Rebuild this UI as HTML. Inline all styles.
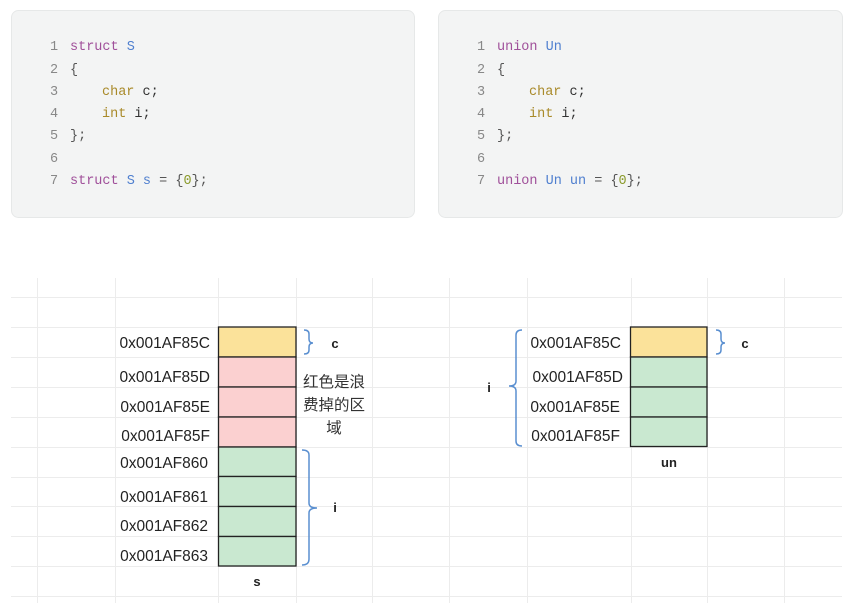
<!DOCTYPE html>
<html><head><meta charset="utf-8"><style>
html,body{margin:0;padding:0;background:#fff;}
svg{display:block;}
.m{font-family:"Liberation Mono",monospace;font-size:13.5px;}
.a{font-family:"Liberation Sans",sans-serif;font-size:15.5px;fill:#222;}
.b{font-family:"Liberation Sans",sans-serif;font-size:13px;font-weight:bold;fill:#222;}
</style></head><body>
<svg width="857" height="603" viewBox="0 0 857 603" xmlns="http://www.w3.org/2000/svg">
<rect x="11.5" y="10.5" width="403" height="207" rx="7" fill="#f3f4f4" stroke="#e6e8e8"/>
<rect x="438.5" y="10.5" width="404" height="207" rx="7" fill="#f3f4f4" stroke="#e6e8e8"/>
<g class="m">
<g fill="#888"><text x="50" y="50">1</text><text x="50" y="73">2</text><text x="50" y="95">3</text><text x="50" y="117">4</text><text x="50" y="139">5</text><text x="50" y="162">6</text><text x="50" y="184">7</text></g>
<text x="70" y="50"><tspan fill="#a0509a">struct</tspan> <tspan fill="#4f7fcf">S</tspan></text>
<text x="70" y="73" fill="#555">{</text>
<text x="102" y="95"><tspan fill="#a98a2a">char</tspan><tspan fill="#333"> c;</tspan></text>
<text x="102" y="117"><tspan fill="#a98a2a">int</tspan><tspan fill="#333"> i;</tspan></text>
<text x="70" y="139" fill="#555">};</text>
<text x="70" y="184"><tspan fill="#a0509a">struct</tspan> <tspan fill="#4f7fcf">S s</tspan><tspan fill="#555"> = {</tspan><tspan fill="#8a9a2a">0</tspan><tspan fill="#555">};</tspan></text>
<g fill="#888"><text x="477" y="50">1</text><text x="477" y="73">2</text><text x="477" y="95">3</text><text x="477" y="117">4</text><text x="477" y="139">5</text><text x="477" y="162">6</text><text x="477" y="184">7</text></g>
<text x="497" y="50"><tspan fill="#a0509a">union</tspan> <tspan fill="#4f7fcf">Un</tspan></text>
<text x="497" y="73" fill="#555">{</text>
<text x="529" y="95"><tspan fill="#a98a2a">char</tspan><tspan fill="#333"> c;</tspan></text>
<text x="529" y="117"><tspan fill="#a98a2a">int</tspan><tspan fill="#333"> i;</tspan></text>
<text x="497" y="139" fill="#555">};</text>
<text x="497" y="184"><tspan fill="#a0509a">union</tspan> <tspan fill="#4f7fcf">Un un</tspan><tspan fill="#555"> = {</tspan><tspan fill="#8a9a2a">0</tspan><tspan fill="#555">};</tspan></text>
</g>
<g stroke="#ececec" stroke-width="1">
<line x1="37.5" y1="278" x2="37.5" y2="603"/><line x1="115.5" y1="278" x2="115.5" y2="603"/><line x1="218.5" y1="278" x2="218.5" y2="603"/><line x1="296.5" y1="278" x2="296.5" y2="603"/><line x1="372.5" y1="278" x2="372.5" y2="603"/>
<line x1="449.5" y1="278" x2="449.5" y2="603"/><line x1="527.5" y1="278" x2="527.5" y2="603"/><line x1="631.5" y1="278" x2="631.5" y2="603"/><line x1="707.5" y1="278" x2="707.5" y2="603"/><line x1="784.5" y1="278" x2="784.5" y2="603"/>
<line x1="11" y1="297.5" x2="842" y2="297.5"/><line x1="11" y1="327.5" x2="842" y2="327.5"/><line x1="11" y1="357.5" x2="842" y2="357.5"/><line x1="11" y1="387.5" x2="842" y2="387.5"/><line x1="11" y1="417.5" x2="842" y2="417.5"/><line x1="11" y1="447.5" x2="842" y2="447.5"/><line x1="11" y1="477.5" x2="842" y2="477.5"/><line x1="11" y1="506.5" x2="842" y2="506.5"/><line x1="11" y1="536.5" x2="842" y2="536.5"/><line x1="11" y1="566.5" x2="842" y2="566.5"/><line x1="11" y1="596.5" x2="842" y2="596.5"/>
</g>
<g stroke="#222" stroke-width="1.3">
<rect x="218.5" y="327" width="77.5" height="30" fill="#fbe29a"/>
<rect x="218.5" y="357" width="77.5" height="30" fill="#fbd0d0"/>
<rect x="218.5" y="387" width="77.5" height="30" fill="#fbd0d0"/>
<rect x="218.5" y="417" width="77.5" height="30" fill="#fbd0d0"/>
<rect x="218.5" y="447" width="77.5" height="29.5" fill="#c9e8d0"/>
<rect x="218.5" y="476.5" width="77.5" height="30" fill="#c9e8d0"/>
<rect x="218.5" y="506.5" width="77.5" height="30" fill="#c9e8d0"/>
<rect x="218.5" y="536.5" width="77.5" height="29.5" fill="#c9e8d0"/>
<rect x="630.5" y="327" width="76.5" height="30" fill="#fbe29a"/>
<rect x="630.5" y="357" width="76.5" height="30" fill="#c9e8d0"/>
<rect x="630.5" y="387" width="76.5" height="30" fill="#c9e8d0"/>
<rect x="630.5" y="417" width="76.5" height="29.5" fill="#c9e8d0"/>
</g>
<g class="a" text-anchor="end">
<text x="210" y="348">0x001AF85C</text><text x="210" y="382">0x001AF85D</text><text x="210" y="412">0x001AF85E</text><text x="210" y="441">0x001AF85F</text>
<text x="208" y="468">0x001AF860</text><text x="208" y="502">0x001AF861</text><text x="208" y="531">0x001AF862</text><text x="208" y="561">0x001AF863</text>
<text x="621" y="348">0x001AF85C</text><text x="623" y="382">0x001AF85D</text><text x="620" y="412">0x001AF85E</text><text x="620" y="441">0x001AF85F</text>
</g>
<g fill="none" stroke="#5a8fd0" stroke-width="1.5">
<path d="M304 330 Q309 330 309 334 V339 Q309 343 313 343 Q309 343 309 347 V350 Q309 354 304 354"/>
<path d="M302 450 Q309 450 309 455 V503 Q309 508 317 508 Q309 508 309 513 V559 Q309 565 302 565"/>
<path d="M716 330 Q721 330 721 334 V339 Q721 343 725 343 Q721 343 721 347 V350 Q721 354 716 354"/>
<path d="M522 330 Q516 330 516 335 V381 Q516 386 509 386 Q516 386 516 391 V441 Q516 446 522 446"/>
</g>
<g class="b" text-anchor="middle">
<text x="335" y="348">c</text><text x="335" y="512">i</text><text x="257" y="586">s</text>
<text x="745" y="348">c</text><text x="489" y="392">i</text><text x="669" y="467">un</text>
</g>
<g font-family="'Liberation Sans','Noto Sans CJK SC',sans-serif" font-size="15.5" fill="#333" text-anchor="middle">
<text x="334" y="387">红色是浪</text><text x="334" y="410">费掉的区</text><text x="334" y="433">域</text>
</g>
</svg>
</body></html>
